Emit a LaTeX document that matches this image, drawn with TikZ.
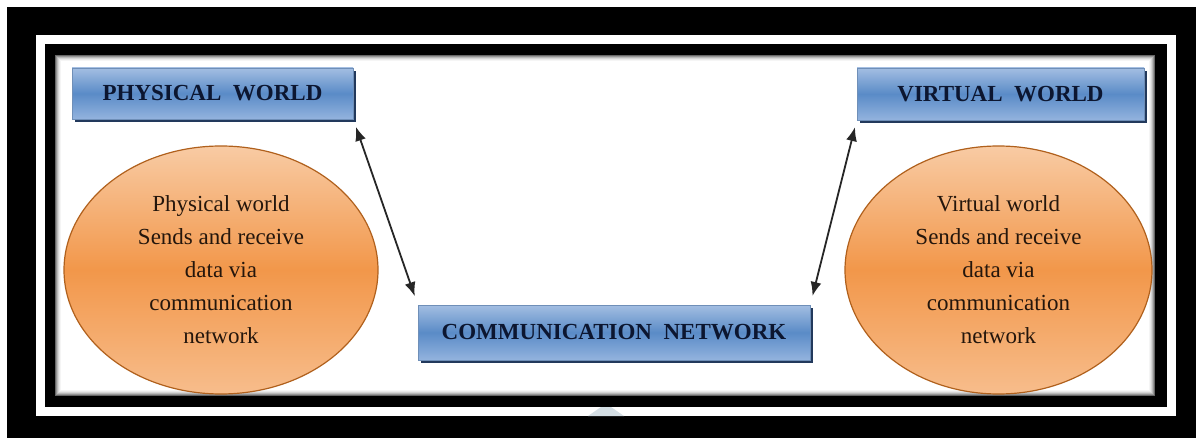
\documentclass[tikz,border=0pt]{standalone}
\usepackage{fontspec}
\setmainfont{Liberation Serif}
\usetikzlibrary{shapes.geometric,arrows.meta,shadows}

\definecolor{boxtop}{HTML}{A3BEE2}
\definecolor{boxmid}{HTML}{5A8BC7}
\definecolor{boxbot}{HTML}{93B3DE}
\definecolor{boxline}{HTML}{6F8FB8}
\definecolor{boxshade}{HTML}{22395C}
\definecolor{boxtext}{HTML}{0C1630}
\definecolor{ovtop}{HTML}{F8CBA4}
\definecolor{ovmid}{HTML}{F2974A}
\definecolor{ovbot}{HTML}{F7BD8C}
\definecolor{ovline}{HTML}{B0601C}
\definecolor{ovtext}{HTML}{24160C}
\definecolor{notch}{HTML}{D4DEE4}

\tikzset{
  titlebox/.style={rectangle, draw=boxline, line width=0.6pt,
    top color=boxtop, bottom color=boxbot, middle color=boxmid,
    text=boxtext, inner sep=0pt,
    font=\fontsize{23}{26}\selectfont\bfseries,
    drop shadow={shadow xshift=3pt, shadow yshift=-3pt, fill=boxshade, opacity=1}},
  bubble/.style={ellipse, draw=ovline, line width=1.2pt,
    top color=ovtop, bottom color=ovbot, middle color=ovmid,
    text=ovtext, inner sep=0pt, align=center,
    font=\fontsize{23}{33}\selectfont},
  link/.style={{Latex[length=14pt,width=11pt]}-{Latex[length=14pt,width=11pt]},
    line width=1.8pt, draw=black!85}
}

\begin{document}
\begin{tikzpicture}[x=1pt,y=-1pt]
  \useasboundingbox (0,0) rectangle (1196,438);
  \fill[white] (0,0) rectangle (1196,438);

  % double black frame
  \fill[black] (7,7) rectangle (1196,438);
  \fill[white] (36,35) rectangle (1176,416);
  \fill[black] (45,44) rectangle (1167,407);
  \fill[white] (55,55) rectangle (1155,396);
  % soft inner shade of the panel
  \foreach \d/\c in {0.5/60,1.5/42,2.5/28,3.5/17,4.5/9,5.5/4}{
    \draw[black!\c, line width=1pt] (55+\d,55+\d) rectangle (1155-\d,396-\d);
  }
  % small notch in the white band
  \fill[notch] (588,416) -- (601,407) -- (611,407) -- (624,416) -- cycle;

  % title boxes
  \node[titlebox, minimum width=281pt, minimum height=51pt]
    (pw) at (212.5,93.5) {PHYSICAL\hspace{0.5em}WORLD};
  \node[titlebox, minimum width=287pt, minimum height=52pt]
    (vw) at (1000.5,94) {VIRTUAL\hspace{0.5em}WORLD};
  \node[titlebox, minimum width=392pt, minimum height=55pt]
    (cn) at (614,332.5) {COMMUNICATION\hspace{0.5em}NETWORK};

  % description bubbles
  \node[bubble, minimum width=314pt, minimum height=248pt] (pe) at (221,270)
    {Physical world\\Sends and receive\\data via\\communication\\network};
  \node[bubble, minimum width=307pt, minimum height=248pt] (ve) at (998.5,270)
    {Virtual world\\Sends and receive\\data via\\communication\\network};

  % two-way links to the network
  \draw[link, shorten <=8pt, shorten >=9pt] (pw.south east) -- (cn.north west);
  \draw[link, shorten <=7pt, shorten >=9pt] (vw.south west) -- (cn.north east);
\end{tikzpicture}
\end{document}
